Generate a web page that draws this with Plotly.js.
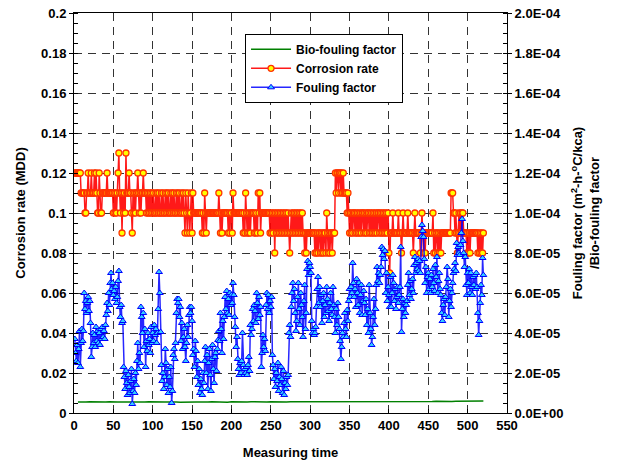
<!DOCTYPE html>
<html>
<head>
<meta charset="utf-8">
<script src="https://cdn.plot.ly/plotly-3.0.1.min.js"></script>
<style>html,body{margin:0;padding:0;background:#fff;}#chart{width:619px;height:464px;}</style>
</head>
<body>
<div id="chart"></div>
<script>
// Corrosion rate (MDD), one value per measuring time 1..520
const corrosion = [
.12,.12,.12,.12,.12,.12,.12,.12,.11,.11,
.11,.11,.11,.10,.10,.11,.11,.12,.11,.11,
.11,.12,.11,.11,.11,.12,.11,.12,.11,.10,
.10,.12,.11,.10,.10,.11,.11,.11,.11,.11,
.11,.12,.11,.11,.11,.11,.11,.11,.11,.10,
.11,.10,.11,.10,.11,.12,.13,.11,.10,.11,
.09,.11,.10,.11,.10,.13,.11,.11,.11,.12,
.11,.11,.10,.09,.11,.10,.11,.10,.11,.11,
.12,.11,.10,.11,.10,.11,.11,.12,.11,.11,
.11,.10,.11,.10,.11,.10,.11,.10,.11,.10,
.11,.10,.10,.11,.10,.11,.10,.11,.10,.10,
.11,.10,.11,.10,.10,.11,.10,.11,.10,.11,
.10,.10,.11,.10,.11,.10,.11,.10,.10,.11,
.10,.11,.10,.11,.10,.10,.11,.10,.11,.10,
.09,.11,.10,.09,.11,.10,.09,.10,.11,.09,
.11,.10,.10,.10,.10,.10,.10,.10,.10,.10,
.10,.10,.09,.10,.09,.11,.10,.09,.10,.10,
.10,.10,.10,.10,.10,.10,.10,.10,.10,.10,
.10,.10,.10,.11,.10,.09,.10,.09,.10,.10,
.10,.10,.10,.10,.10,.09,.10,.09,.10,.10,
.09,.11,.10,.10,.10,.10,.10,.10,.10,.10,
.10,.10,.10,.10,.09,.10,.09,.11,.10,.09,
.10,.09,.10,.09,.10,.10,.10,.10,.09,.10,
.09,.10,.09,.11,.10,.11,.09,.10,.10,.10,
.10,.10,.10,.10,.10,.10,.10,.10,.09,.10,
.09,.10,.09,.10,.08,.10,.09,.10,.09,.10,
.09,.10,.09,.10,.09,.10,.09,.10,.09,.10,
.09,.10,.09,.08,.09,.10,.09,.10,.09,.10,
.09,.10,.09,.10,.09,.10,.09,.10,.09,.10,
.09,.09,.08,.09,.08,.09,.09,.09,.09,.09,
.09,.09,.09,.09,.09,.08,.09,.08,.09,.08,
.09,.09,.08,.09,.08,.09,.08,.09,.09,.08,
.10,.09,.08,.09,.08,.09,.09,.08,.09,.09,
.09,.12,.11,.12,.12,.11,.12,.12,.11,.12,
.11,.12,.11,.11,.11,.11,.10,.11,.10,.09,
.10,.09,.10,.09,.10,.10,.09,.10,.09,.10,
.09,.10,.09,.10,.09,.10,.10,.09,.10,.09,
.10,.09,.10,.10,.09,.10,.09,.10,.09,.10,
.09,.10,.09,.10,.09,.10,.10,.09,.10,.09,
.10,.09,.10,.09,.10,.09,.10,.09,.10,.08,
.07,.09,.09,.09,.10,.09,.09,.09,.09,.09,
.09,.10,.09,.09,.09,.08,.09,.10,.09,.09,
.09,.09,.09,.10,.09,.09,.09,.09,.09,.09,
.08,.09,.10,.09,.09,.09,.09,.09,.09,.08,
.09,.10,.09,.08,.09,.08,.09,.09,.09,.09,
.09,.09,.09,.09,.09,.10,.08,.09,.08,.09,
.09,.08,.09,.08,.09,.08,.09,.09,.09,.09,
.09,.09,.09,.09,.09,.09,.09,.09,.11,.11,
.11,.10,.10,.09,.10,.09,.08,.09,.10,.09,
.10,.09,.10,.10,.09,.09,.09,.09,.08,.09,
.08,.09,.08,.09,.09,.09,.09,.09,.09,.09,
.09,.09,.08,.09,.08,.09,.08,.09,.08,.09
];

// Fouling factor, in units of 1E-05 m2-h-C/kcal, measuring time 1..520
const foulingE5 = [
3.7,3.0,2.6,3.4,2.5,3.2,4.1,2.3,3.5,4.2,
3.6,4.1,6.0,5.2,5.6,5.0,5.5,5.8,5.1,5.6,
4.5,2.8,3.3,4.0,3.5,3.9,3.3,4.3,3.6,4.1,
3.5,4.0,3.4,4.2,3.7,4.3,3.8,4.1,3.7,4.4,
4.9,5.5,5.1,6.0,5.4,6.5,7.0,6.2,6.5,5.9,
6.1,5.7,6.3,5.5,5.8,6.6,7.1,5.3,4.8,5.4,
4.5,4.6,2.3,1.8,1.2,2.1,1.5,0.9,1.9,1.3,
1.0,1.6,2.2,0.45,1.1,1.7,1.0,2.0,1.4,2.6,
3.5,2.2,3.0,2.5,5.3,4.8,4.0,5.0,3.3,4.2,
2.3,3.6,3.1,4.0,3.4,3.7,3.0,4.3,3.5,4.0,
3.6,4.4,3.9,4.2,3.5,4.0,5.2,7.05,6.0,4.05,
2.4,1.6,2.0,1.2,1.8,3.2,2.5,1.4,2.2,1.0,
1.8,1.3,2.3,0.5,1.1,2.9,3.2,2.7,3.5,5.0,
5.7,5.5,5.7,4.8,5.3,3.6,4.5,3.2,3.8,4.2,
3.3,2.6,3.5,4.4,3.8,4.9,5.3,5.0,5.3,4.6,
2.9,3.2,2.3,3.6,3.1,1.8,2.6,1.4,2.2,1.0,
1.7,1.2,0.9,2.0,1.5,2.6,3.3,2.0,2.9,1.2,
2.5,3.2,1.9,1.1,2.7,3.4,2.2,1.5,2.8,3.0,
2.1,3.2,3.65,4.1,3.6,5.0,4.2,3.0,4.6,3.7,
4.8,5.8,5.2,6.1,5.0,5.7,4.9,6.0,5.4,5.9,
5.5,6.5,5.9,4.8,4.3,3.3,3.8,2.7,2.2,1.9,
2.5,2.0,2.6,4.0,2.4,1.9,2.2,2.0,2.3,1.9,
2.4,2.8,2.1,4.4,3.9,4.2,5.2,4.6,5.4,5.1,
4.5,6.0,5.5,4.7,5.8,4.9,5.3,2.3,3.0,3.9,
3.3,3.7,3.1,5.4,6.0,5.2,5.9,5.0,5.6,5.3,
5.8,2.9,2.4,1.7,2.2,1.3,2.0,1.6,2.5,1.1,
1.8,1.4,2.3,1.7,1.0,2.1,0.9,1.5,1.2,1.8,
1.4,1.9,4.0,4.4,3.8,5.3,6.0,6.5,5.6,6.2,
5.0,4.1,4.6,5.8,6.5,5.2,4.4,6.0,5.4,4.8,
3.8,5.6,6.4,4.2,5.0,7.2,7.6,6.9,7.5,7.3,
7.0,4.6,4.0,4.2,3.9,4.0,4.3,5.3,6.2,6.8,
5.5,6.3,5.3,5.9,4.5,5.6,6.0,4.8,5.4,5.0,
6.3,5.7,5.1,4.6,5.5,6.0,5.2,4.9,6.3,5.4,
4.8,4.0,5.2,4.4,5.5,4.8,4.2,3.6,2.7,3.3,
4.0,3.8,4.5,5.0,4.2,3.8,5.15,4.6,5.6,6.2,
5.8,6.3,6.0,7.5,6.5,5.8,6.2,5.3,6.7,6.0,
5.4,6.5,5.0,5.9,6.4,4.9,5.6,6.1,5.5,4.9,
5.7,4.4,5.2,4.0,6.4,5.0,4.2,3.4,3.8,4.8,
5.7,4.4,5.2,6.4,7.3,6.6,7.0,6.5,6.9,7.3,
8.3,7.9,8.2,7.7,8.1,6.0,7.0,5.6,6.3,5.9,
5.3,6.8,5.3,6.0,6.9,6.5,5.6,6.2,5.2,5.8,
6.3,5.5,5.9,6.3,8.3,4.05,5.2,5.7,4.8,5.5,
5.0,5.4,5.6,6.4,7.0,5.9,6.6,5.7,6.2,6.7,
6.0,7.4,7.8,7.0,7.5,7.2,7.7,7.1,7.6,7.0,
8.8,9.4,9.1,8.8,7.7,6.5,7.3,6.0,6.8,7.0,
6.2,6.7,6.0,6.9,6.3,7.2,6.5,6.1,7.4,6.8,
7.8,6.0,6.6,7.0,6.2,5.9,5.0,4.6,5.4,5.7,
4.9,5.8,6.3,7.3,6.7,4.8,5.6,6.2,5.3,6.0,
6.5,7.0,7.2,7.5,7.1,8.5,7.9,8.3,8.0,7.9,
8.4,9.0,9.7,8.6,8.0,7.3,7.8,6.4,5.9,7.0,
6.5,7.2,6.0,7.0,6.3,5.9,6.8,6.4,6.9,6.2,
7.0,6.3,5.0,3.9,4.6,5.5,6.4,5.9,7.75,6.9
];

// Bio-fouling factor, in units of 1E-05, sampled every 5 measuring times
const bioE5 = [
0.55,0.54,0.55,0.56,0.55,0.54,0.55,0.55,0.56,0.54,
0.55,0.55,0.54,0.56,0.55,0.55,0.54,0.55,0.56,0.55,
0.55,0.54,0.55,0.55,0.56,0.55,0.54,0.55,0.55,0.56,
0.55,0.55,0.54,0.55,0.56,0.55,0.55,0.55,0.54,0.56,
0.55,0.56,0.55,0.55,0.56,0.55,0.55,0.56,0.55,0.56,
0.55,0.56,0.56,0.55,0.56,0.56,0.55,0.56,0.57,0.56,
0.56,0.57,0.56,0.56,0.57,0.56,0.57,0.56,0.57,0.57,
0.56,0.57,0.57,0.56,0.57,0.58,0.57,0.57,0.58,0.57,
0.57,0.58,0.57,0.58,0.58,0.57,0.58,0.58,0.57,0.58,
0.58,0.59,0.58,0.58,0.59,0.58,0.59,0.59,0.58,0.59,
0.59,0.60,0.59,0.60
];

const xTicks = [0,50,100,150,200,250,300,350,400,450,500,550];
const yTicks = [0,0.02,0.04,0.06,0.08,0.1,0.12,0.14,0.16,0.18,0.2];
const yTickText = ['0','0.02','0.04','0.06','0.08','0.1','0.12','0.14','0.16','0.18','0.2'];
const y2Ticks = [0,2,4,6,8,10,12,14,16,18,20];
const y2TickText = ['0.0E+00','2.0E-05','4.0E-05','6.0E-05','8.0E-05','1.0E-04','1.2E-04','1.4E-04','1.6E-04','1.8E-04','2.0E-04'];

const timeMain = corrosion.map((_, i) => i + 1);
const timeBio = bioE5.map((_, i) => (i + 1) * 5);

const F = {family: 'Liberation Sans, Arial, sans-serif', size: 13, color: '#000', weight: 'bold'};
const FL = {family: 'Liberation Sans, Arial, sans-serif', size: 12, color: '#000', weight: 'bold'};

const traces = [
  {x: timeBio, y: bioE5, yaxis: 'y2', type: 'scatter', mode: 'lines', name: 'Bio-fouling factor',
   line: {color: '#008000', width: 1.5}},
  {x: timeMain, y: corrosion, yaxis: 'y', type: 'scatter', mode: 'lines+markers', name: 'Corrosion rate',
   line: {color: 'rgba(255,0,0,0.9)', width: 1.5},
   marker: {symbol: 'circle', size: 6, color: '#ffff00', line: {color: '#ff3300', width: 1.3}}},
  {x: timeMain, y: foulingE5, yaxis: 'y2', type: 'scatter', mode: 'lines+markers', name: 'Fouling factor',
   line: {color: 'rgba(0,0,255,0.85)', width: 1.5},
   marker: {symbol: 'triangle-up', size: 6, color: '#33ccff', line: {color: '#0000ff', width: 1}}}
];

const layout = {
  width: 619, height: 464,
  margin: {l: 74, r: 112, t: 13, b: 51},
  paper_bgcolor: '#fff', plot_bgcolor: '#fff',
  font: F,
  showlegend: true,
  legend: {x: 0.395, y: 0.948, xanchor: 'left', yanchor: 'top', bgcolor: '#fff',
           bordercolor: '#000', borderwidth: 1, font: FL, tracegroupgap: 0,
           itemwidth: 40},
  xaxis: {range: [0, 550], tickvals: xTicks, ticktext: xTicks.map(String),
          showgrid: true, gridcolor: '#333', griddash: '8px,6px', gridwidth: 1,
          showline: true, linecolor: '#000', linewidth: 1, mirror: true,
          ticks: 'inside', ticklen: 4, tickcolor: '#000', zeroline: false,
          tickfont: F, title: {text: 'Measuring time', font: F, standoff: 16}},
  yaxis: {range: [0, 0.2], tickvals: yTicks, ticktext: yTickText,
          showgrid: true, gridcolor: '#333', griddash: '8px,6px', gridwidth: 1,
          showline: true, linecolor: '#000', linewidth: 1,
          ticks: 'outside', ticklen: 4, tickcolor: '#000', zeroline: false,
          minor: {dtick: 0.005, ticks: 'inside', ticklen: 4, tickcolor: '#000', showgrid: false},
          tickfont: F, title: {text: 'Corrosion rate (MDD)', font: F, standoff: 12}},
  yaxis2: {range: [0, 20], overlaying: 'y', side: 'right', tickvals: y2Ticks, ticktext: y2TickText,
           showgrid: false, showline: true, linecolor: '#000', linewidth: 1,
           ticks: 'outside', ticklen: 4, tickcolor: '#000', zeroline: false,
           minor: {dtick: 0.5, ticks: 'inside', ticklen: 4, tickcolor: '#000', showgrid: false},
           tickfont: F,
           title: {text: 'Fouling factor (m<sup>2</sup>-h-<sup>o</sup>C/kca)<br>/Bio-fouling factor', font: F, standoff: 10}}
};

Plotly.newPlot('chart', traces, layout, {staticPlot: true, displayModeBar: false});
</script>
</body>
</html>
